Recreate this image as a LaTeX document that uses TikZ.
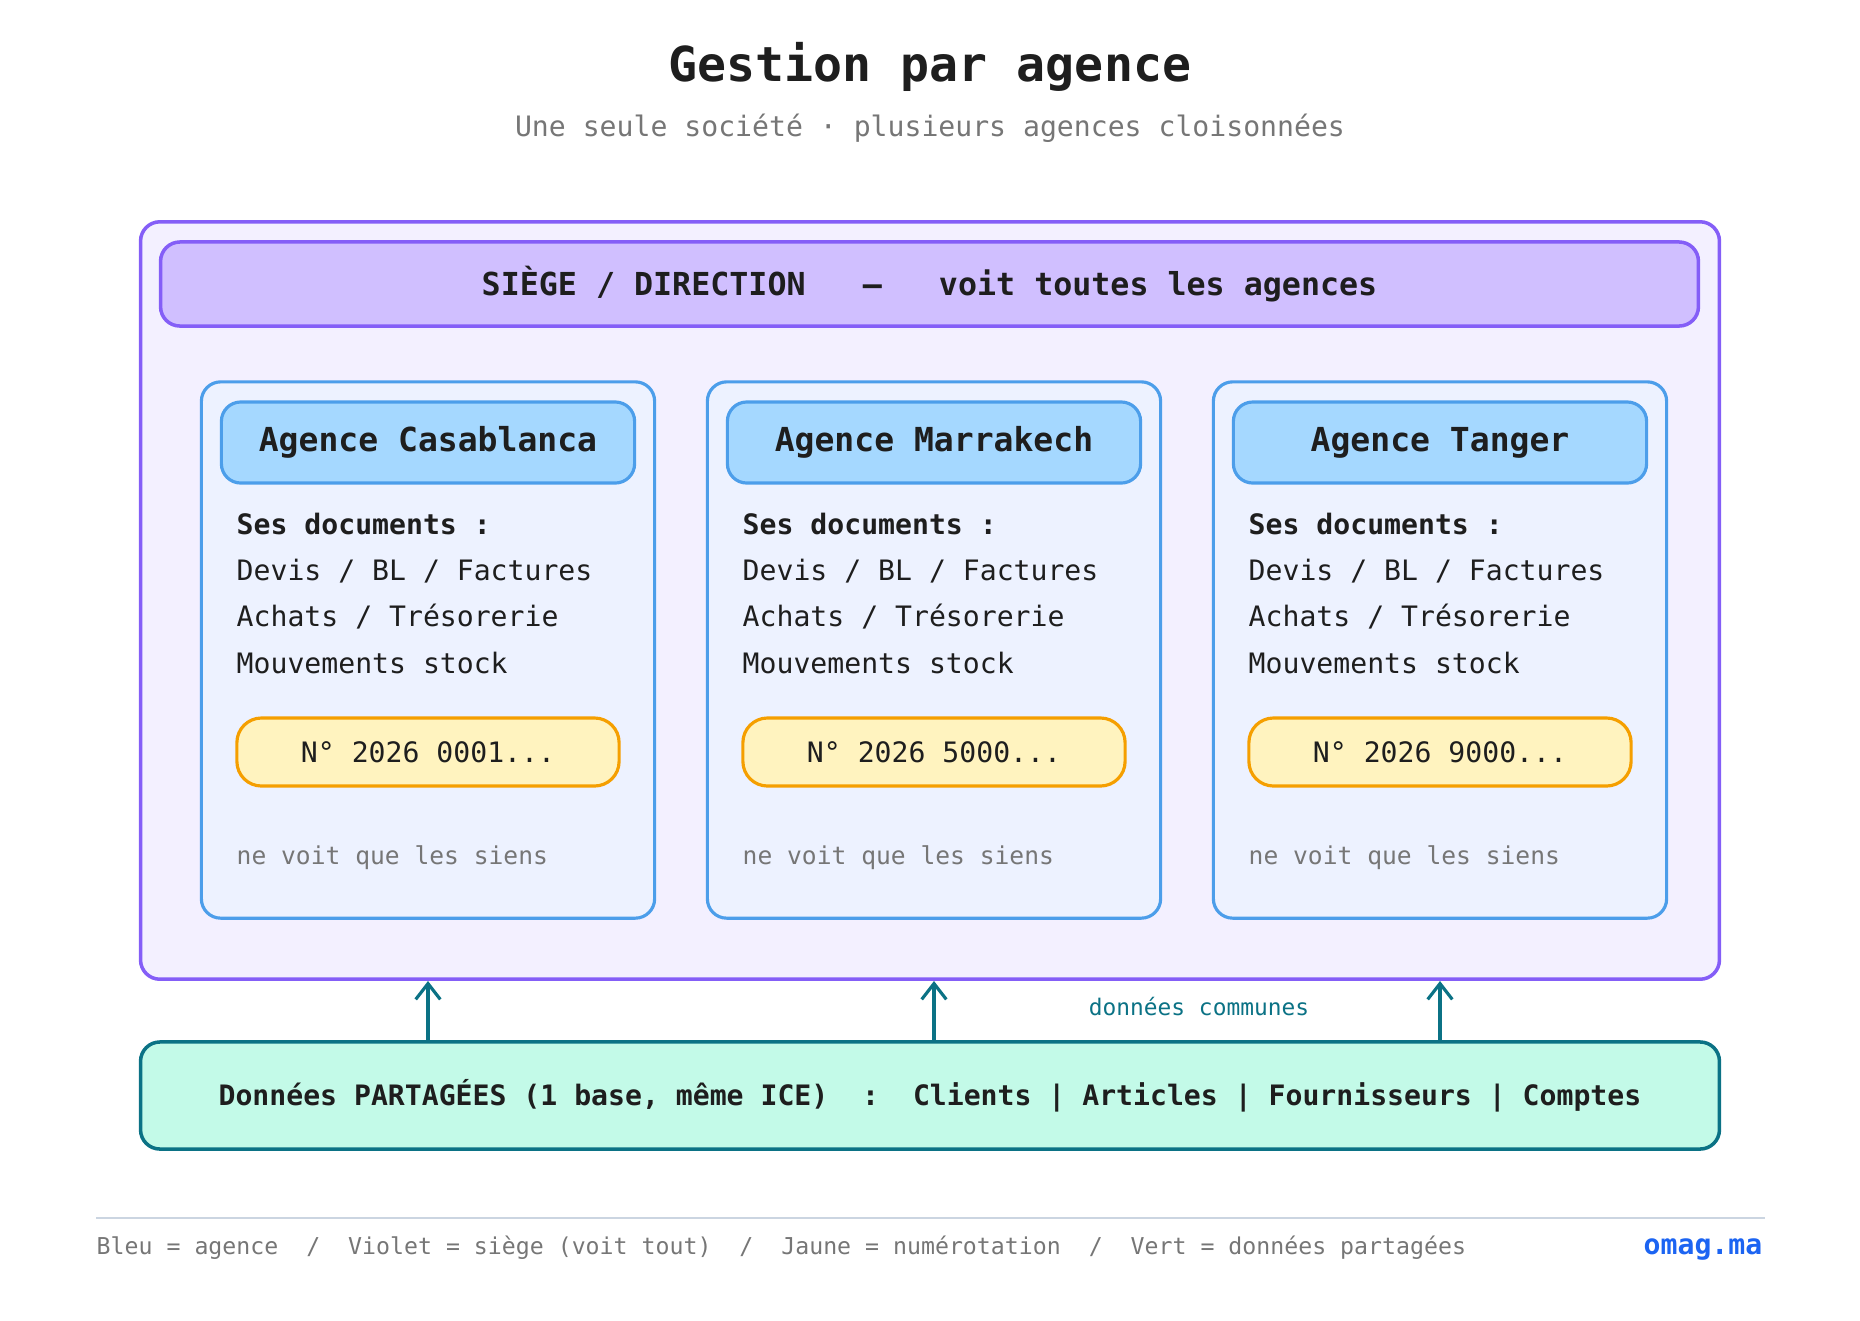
\documentclass[tikz,border=0pt]{standalone}
\usepackage{fontspec}
\setmainfont{DejaVu Sans Mono}
\usepackage{xcolor}
\usepackage{tikz}
\usetikzlibrary{arrows.meta,positioning}
\frenchspacing

\definecolor{encre}{HTML}{1E1E1E}
\definecolor{gris}{HTML}{767676}
\definecolor{violettrait}{HTML}{845EF7}
\definecolor{violetfond}{HTML}{F3F0FF}
\definecolor{violetbande}{HTML}{D0BFFF}
\definecolor{bleutrait}{HTML}{4C9EEA}
\definecolor{bleufond}{HTML}{EDF2FF}
\definecolor{bleutitre}{HTML}{A5D8FF}
\definecolor{ambre}{HTML}{F59F00}
\definecolor{jaune}{HTML}{FFF3BF}
\definecolor{sarcelle}{HTML}{0B7285}
\definecolor{menthe}{HTML}{C3FAE8}
\definecolor{filet}{HTML}{CBD5E1}
\definecolor{lien}{HTML}{1C64F2}

\begin{document}
\begin{tikzpicture}[x=0.01cm, y=-0.01cm, text=encre,
  font=\fontsize{8}{13.1}\selectfont,
  panel/.style={draw, rounded corners=5.5pt, line width=0.9pt, inner sep=0pt},
  agence/.style={panel, draw=bleutrait, fill=bleufond, minimum width=4.53cm, minimum height=5.36cm},
  titre/.style={panel, draw=bleutrait, fill=bleutitre, minimum width=4.13cm, minimum height=0.81cm,
    font=\fontsize{9.4}{11}\selectfont\bfseries},
  numero/.style={panel, draw=ambre, fill=jaune, rounded corners=7pt, minimum width=3.82cm, minimum height=0.68cm},
  docs/.style={anchor=base west, align=left, inner sep=0pt},
  note/.style={anchor=base west, inner sep=0pt, text=gris, font=\fontsize{7}{9}\selectfont},
  flow/.style={-{Straight Barb[length=4.5pt,width=7pt]}, line width=0.9pt, draw=sarcelle}]

  \useasboundingbox (0,0) rectangle (1860,1320);

  % en-tete
  \node[anchor=base, font=\fontsize{13.7}{16}\selectfont\bfseries] (title) at (930,81) {Gestion par agence};
  \node[anchor=base, text=gris] (subtitle) at (930,136) {Une seule société · plusieurs agences cloisonnées};

  % siege
  \node[panel, draw=violettrait, fill=violetfond, line width=1pt, minimum width=15.78cm, minimum height=7.57cm] (siege) at (930,600.5) {};
  \node[panel, draw=violettrait, fill=violetbande, line width=1pt, minimum width=15.37cm, minimum height=0.84cm,
    font=\fontsize{9}{11}\selectfont\bfseries] (direction) at (929.5,284) {SIÈGE / DIRECTION\ \ \ —\ \ \ voit toutes les agences};

  % agences (base = derniere ligne des documents)
  \node[agence] (casa) at (428,650) {};
  \node[titre] (casaTitre) at (428,442.5) {Agence Casablanca};
  \node[docs] (casaDocs) at (236,673) {\textbf{Ses documents :}\\Devis / BL / Factures\\Achats / Trésorerie\\Mouvements stock};
  \node[numero] (casaNum) at (428,752) {N° 2026 0001...};
  \node[note] (casaNote) at (236,864) {ne voit que les siens};

  \node[agence] (marra) at (934,650) {};
  \node[titre] (marraTitre) at (934,442.5) {Agence Marrakech};
  \node[docs] (marraDocs) at (742,673) {\textbf{Ses documents :}\\Devis / BL / Factures\\Achats / Trésorerie\\Mouvements stock};
  \node[numero] (marraNum) at (934,752) {N° 2026 5000...};
  \node[note] (marraNote) at (742,864) {ne voit que les siens};

  \node[agence] (tanger) at (1440,650) {};
  \node[titre] (tangerTitre) at (1440,442.5) {Agence Tanger};
  \node[docs] (tangerDocs) at (1248,673) {\textbf{Ses documents :}\\Devis / BL / Factures\\Achats / Trésorerie\\Mouvements stock};
  \node[numero] (tangerNum) at (1440,752) {N° 2026 9000...};
  \node[note] (tangerNote) at (1248,864) {ne voit que les siens};

  % donnees partagees
  \node[panel, draw=sarcelle, fill=menthe, line width=1pt, minimum width=15.78cm, minimum height=1.07cm,
    font=\fontsize{8}{10}\selectfont\bfseries] (partage) at (930,1095.5)
    {Données PARTAGÉES (1 base, même ICE)\ \ :\ \ Clients | Articles | Fournisseurs | Comptes};

  \draw[flow] (partage.north -| casa) -- (siege.south -| casa);
  \draw[flow] (partage.north -| marra) -- (siege.south -| marra);
  \draw[flow] (partage.north -| tanger) -- (siege.south -| tanger);
  \node[text=sarcelle, font=\fontsize{6.5}{8}\selectfont] (commun) at (1199,1006) {données communes};

  % legende
  \draw[filet, line width=0.6pt] (96,1218) -- (1765,1218);
  \node[anchor=base west, inner sep=0pt, text=gris, font=\fontsize{6.6}{8}\selectfont] (legende) at (96,1254)
    {Bleu = agence\ \ /\ \ Violet = siège (voit tout)\ \ /\ \ Jaune = numérotation\ \ /\ \ Vert = données partagées};
  \node[anchor=base east, inner sep=0pt, text=lien, font=\fontsize{8}{10}\selectfont\bfseries] (site) at (1763,1254) {omag.ma};
\end{tikzpicture}
\end{document}
